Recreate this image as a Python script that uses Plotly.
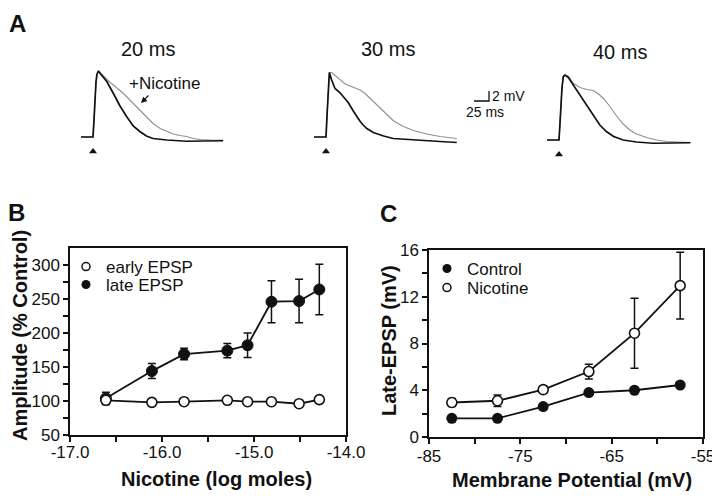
import plotly.graph_objects as go

# ---------------- DATA ----------------
# Panel A: EPSP traces (time in ms after stimulus, voltage in mV)
a_titles = ["20 ms", "30 ms", "40 ms"]

a1_ctrl_t = [-20, 0, 1.5, 3, 5, 6.5, 9, 12, 17, 23, 34, 45, 56, 67, 78, 89, 100, 112, 123, 156, 178, 200, 217]
a1_ctrl_v = [0, 0, 3, 7, 11, 12.5, 13.2, 12.7, 12.0, 11.1, 8.7, 6.2, 4.1, 2.2, 1.1, 0.2, -0.3, -0.5, -0.6, -0.85, -0.85, -0.8, -0.75]
a1_nic_t = [-20, 0, 1.5, 3, 5, 6.5, 9, 12, 17, 25, 34, 42, 51, 59, 67, 78, 89, 100, 112, 123, 134, 145, 156, 167, 178, 200, 217]
a1_nic_v = [0, 0, 3, 7, 11, 12.5, 13.2, 12.9, 12.2, 11.3, 10.4, 9.6, 8.7, 7.7, 6.7, 5.4, 4.1, 2.7, 1.7, 1.1, 0.6, 0.3, 0.1, -0.3, -0.5, -0.65, -0.6]

a2_ctrl_t = [-20, 0, 2.2, 4, 5.6, 9.4, 15, 23, 30, 37, 46, 51, 57, 62, 68, 79, 96, 112, 134, 162, 190, 218]
a2_ctrl_v = [0, 0, 5.4, 10, 12.9, 11.4, 9.7, 8.9, 8.0, 6.9, 5.1, 4.1, 3.1, 2.4, 1.7, 0.9, 0.2, -0.3, -0.5, -0.7, -0.9, -1.1]
a2_nic_t = [-20, 0, 2.2, 4, 5.6, 9.4, 15, 23, 32, 40, 48, 57, 65, 72, 79, 87, 96, 104, 112, 120, 129, 146, 168, 190, 205, 218]
a2_nic_v = [0, 0, 5.4, 10, 12.9, 12.9, 12.3, 11.4, 10.6, 10.2, 9.8, 9.4, 8.7, 7.9, 7.1, 6.1, 5.1, 4.2, 3.3, 2.7, 2.1, 1.3, 0.6, 0.1, -0.1, -0.3]

a3_ctrl_t = [-20, 0, 1.5, 2.8, 5, 7.2, 10, 15.6, 24, 35, 46, 57, 68, 79, 91, 107, 129, 157, 190, 219]
a3_ctrl_v = [0, 0, 3, 6, 10.5, 12.7, 13, 12.5, 11, 9, 7, 5, 3, 1.7, 0.7, 0, -0.4, -0.65, -0.65, -0.55]
a3_nic_t = [-20, 0, 1.5, 2.8, 5, 7.2, 10, 15.6, 24, 35, 46, 57, 66, 74, 85, 96, 107, 118, 129, 146, 163, 179, 202, 219]
a3_nic_v = [0, 0, 3, 6, 10.5, 12.7, 13, 12.8, 11.3, 10.5, 10.1, 9.9, 9.2, 8.3, 6.7, 4.8, 3.2, 2, 1.2, 0.5, 0, -0.3, -0.5, -0.5]

stim_time = [0]
scale_ms = 25
scale_mv = 2

# Panel B
nic_log = [-16.61, -16.11, -15.76, -15.29, -15.07, -14.81, -14.51, -14.29]
early_epsp = [101, 98, 99, 101, 99, 99, 96, 102]
late_epsp = [104, 144, 169, 174, 182, 246, 247, 264]
late_err = [9, 11, 8.5, 10.5, 18, 31, 32, 37]
b_xticks = [-17, -16.5, -16, -15.5, -15, -14.5, -14]
b_xtext = ["-17.0", "", "-16.0", "", "-15.0", "", "-14.0"]
b_yticks = [50, 75, 100, 125, 150, 175, 200, 225, 250, 275, 300]
b_ytext = ["50", "", "100", "", "150", "", "200", "", "250", "", "300"]

# Panel C
memb_pot = [-82.5, -77.5, -72.5, -67.5, -62.5, -57.5]
control_c = [1.6, 1.6, 2.6, 3.8, 4.0, 4.45]
nicotine_c = [2.95, 3.1, 4.05, 5.6, 8.88, 12.95]
nicotine_err = [0.35, 0.5, 0.3, 0.63, 3.0, 2.85]
c_xticks = [-85, -80, -75, -70, -65, -60, -55]
c_xtext = ["-85", "", "-75", "", "-65", "", "-55"]
c_yticks = [0, 2, 4, 6, 8, 10, 12, 14, 16]
c_ytext = ["0", "", "4", "", "8", "", "12", "", "16"]

# ---------------- LAYOUT HELPERS ----------------
# The page body has an 8px margin, so the figure is drawn 8px in from the
# window corner; all placements below are given in window pixels.
OFF = 8
W, H = 720 - OFF, 498 - OFF
FONT = "Liberation Sans, Arial, Helvetica, sans-serif"


def px(xp):
    return (xp - OFF) / W


def py(yp):
    return 1 - (yp - OFF) / H


def dom_x(a, b):
    return [px(a), px(b)]


def dom_y(top, bottom):
    return [py(bottom), py(top)]


fig = go.Figure()

GRAY = "#8f8f8f"
BLACK = "#111111"

# ---- Panel A traces ----
a_sets = [
    (a1_ctrl_t, a1_ctrl_v, a1_nic_t, a1_nic_v, "x", "y"),
    (a2_ctrl_t, a2_ctrl_v, a2_nic_t, a2_nic_v, "x2", "y2"),
    (a3_ctrl_t, a3_ctrl_v, a3_nic_t, a3_nic_v, "x3", "y3"),
]
for ct, cv, nt, nv, xa, ya in a_sets:
    fig.add_trace(go.Scatter(x=nt, y=nv, mode="lines", line=dict(color=GRAY, width=1.1),
                             xaxis=xa, yaxis=ya, showlegend=False, hoverinfo="skip"))
    fig.add_trace(go.Scatter(x=ct, y=cv, mode="lines", line=dict(color=BLACK, width=1.7),
                             xaxis=xa, yaxis=ya, showlegend=False, hoverinfo="skip"))
    fig.add_trace(go.Scatter(x=stim_time, y=[-2.9], mode="markers",
                             marker=dict(symbol="triangle-up", size=7, color=BLACK),
                             xaxis=xa, yaxis=ya, showlegend=False, hoverinfo="skip"))

# scale bar (on panel A2 axis, placed to the right of the trace)
sb_x0 = 246.7
sb_y0 = 7.2
fig.add_trace(go.Scatter(x=[sb_x0, sb_x0 + scale_ms, sb_x0 + scale_ms],
                         y=[sb_y0, sb_y0, sb_y0 + scale_mv], mode="lines",
                         line=dict(color=BLACK, width=1.3), xaxis="x2", yaxis="y2",
                         showlegend=False, hoverinfo="skip"))

# ---- Panel B ----
fig.add_trace(go.Scatter(x=nic_log, y=late_epsp, mode="lines+markers",
                         error_y=dict(type="data", array=late_err, color=BLACK, thickness=1.5, width=4),
                         line=dict(color=BLACK, width=1.8),
                         marker=dict(size=11, color=BLACK, line=dict(color=BLACK, width=1)),
                         xaxis="x4", yaxis="y4", showlegend=False))
fig.add_trace(go.Scatter(x=nic_log, y=early_epsp, mode="lines+markers",
                         line=dict(color=BLACK, width=1.8),
                         marker=dict(size=10, color="white", line=dict(color=BLACK, width=1.6)),
                         xaxis="x4", yaxis="y4", showlegend=False))

# ---- Panel C ----
fig.add_trace(go.Scatter(x=memb_pot, y=control_c, mode="lines+markers",
                         line=dict(color=BLACK, width=1.8),
                         marker=dict(size=11, color=BLACK),
                         xaxis="x5", yaxis="y5", showlegend=False))
fig.add_trace(go.Scatter(x=memb_pot, y=nicotine_c, mode="lines+markers",
                         error_y=dict(type="data", array=nicotine_err, color=BLACK, thickness=1.5, width=4),
                         line=dict(color=BLACK, width=1.8),
                         marker=dict(size=10, color="white", line=dict(color=BLACK, width=1.6)),
                         xaxis="x5", yaxis="y5", showlegend=False))

# ---- legend entries (one legend box per entry for exact placement) ----
OPEN = dict(size=8, color="white", line=dict(color=BLACK, width=1.5))
FILLED = dict(size=9, color=BLACK)
legend_items = [
    ("early EPSP", OPEN, "x4", "y4", "legend"),
    ("late EPSP", FILLED, "x4", "y4", "legend2"),
    ("Control", FILLED, "x5", "y5", "legend3"),
    ("Nicotine", OPEN, "x5", "y5", "legend4"),
]
for name, mk, xa, ya, lg in legend_items:
    fig.add_trace(go.Scatter(x=[None], y=[None], mode="markers", name=name, marker=mk,
                             xaxis=xa, yaxis=ya, legend=lg, showlegend=True))

# ---------------- AXES ----------------
hidden = dict(visible=False, showgrid=False, zeroline=False, fixedrange=True, automargin=False)
fig.update_layout(
    xaxis=dict(domain=dom_x(81, 225), range=[-20, 220], anchor="y", **hidden),
    yaxis=dict(domain=dom_y(60, 160), range=[-4.6, 15.4], anchor="x", **hidden),
    xaxis2=dict(domain=dom_x(314, 500), range=[-20, 290], anchor="y2", **hidden),
    yaxis2=dict(domain=dom_y(60, 160), range=[-4.6, 15.4], anchor="x2", **hidden),
    xaxis3=dict(domain=dom_x(547, 691), range=[-20, 220], anchor="y3", **hidden),
    yaxis3=dict(domain=dom_y(60, 160), range=[-4.0, 16.0], anchor="x3", **hidden),
)

axis_style = dict(showline=True, linecolor=BLACK, linewidth=1.5, mirror=True,
                  ticks="outside", ticklen=5, tickwidth=1.5, tickcolor=BLACK,
                  showgrid=False, zeroline=False, automargin=False,
                  tickfont=dict(family=FONT, size=17, color=BLACK))

fig.update_layout(
    xaxis4=dict(domain=dom_x(70, 346), range=[-17, -14], anchor="y4", ticklabelstandoff=-4,
                tickmode="array", tickvals=b_xticks, ticktext=b_xtext, **axis_style),
    yaxis4=dict(domain=dom_y(248, 435), range=[50, 325], anchor="x4",
                tickmode="array", tickvals=b_yticks, ticktext=b_ytext, **axis_style),
    xaxis5=dict(domain=dom_x(429, 703), range=[-85, -55], anchor="y5", ticklabelstandoff=-2,
                tickmode="array", tickvals=c_xticks, ticktext=c_xtext, **axis_style),
    yaxis5=dict(domain=dom_y(250, 437), range=[0, 16], anchor="x5",
                tickmode="array", tickvals=c_yticks, ticktext=c_ytext, **axis_style),
)

# ---------------- LEGENDS ----------------
leg_common = dict(bgcolor="rgba(0,0,0,0)", borderwidth=0, xanchor="left", yanchor="top",
                  font=dict(family=FONT, size=17, color=BLACK), itemwidth=30,
                  tracegroupgap=0, itemclick=False, itemdoubleclick=False)
fig.update_layout(
    legend=dict(x=px(66), y=py(249), **leg_common),
    legend2=dict(x=px(66), y=py(267), **leg_common),
    legend3=dict(x=px(427), y=py(251), **leg_common),
    legend4=dict(x=px(427), y=py(270), **leg_common),
)

# ---------------- ANNOTATIONS ----------------
ann = []


def text(t, x, y, size, bold=False, xanchor="center", yanchor="middle", angle=0):
    ann.append(dict(text=(f"<b>{t}</b>" if bold else t), x=px(x), y=py(y), xref="paper", yref="paper",
                    showarrow=False, xanchor=xanchor, yanchor=yanchor, textangle=angle, borderpad=0,
                    font=dict(family=FONT, size=size, color=BLACK)))


text("A", 17.5, 8.5, 24, bold=True, yanchor="top")
text("B", 16, 212, 24, bold=True)
text("C", 388, 214, 24, bold=True)
text(a_titles[0], 148, 49, 20)
text(a_titles[1], 388, 49, 20)
text(a_titles[2], 620, 52, 20)
text("+Nicotine", 128, 83, 17, xanchor="left")
text("2 mV", 491, 96, 14, xanchor="left")
text("25 ms", 465, 112, 14, xanchor="left")
text("Amplitude (% Control)", 20, 336, 20, bold=True, angle=-90)
text("Nicotine (log moles)", 216, 479, 20, bold=True)
text("Late-EPSP (mV)", 389, 341, 20, bold=True, angle=-90)
text("Membrane Potential (mV)", 572, 480, 20, bold=True)

# arrow pointing to nicotine trace
ann.append(dict(x=px(141), y=py(103), xref="paper", yref="paper", ax=9, ay=-9,
                axref="pixel", ayref="pixel", text="", showarrow=True,
                arrowhead=2, arrowsize=1, arrowwidth=1.2, arrowcolor=BLACK))

fig.update_layout(
    annotations=ann,
    width=W, height=H,
    margin=dict(l=0, r=0, t=0, b=0, pad=0, autoexpand=False),
    paper_bgcolor="white", plot_bgcolor="rgba(0,0,0,0)",
    font=dict(family=FONT, color=BLACK),
)

fig.write_html("out.html")
